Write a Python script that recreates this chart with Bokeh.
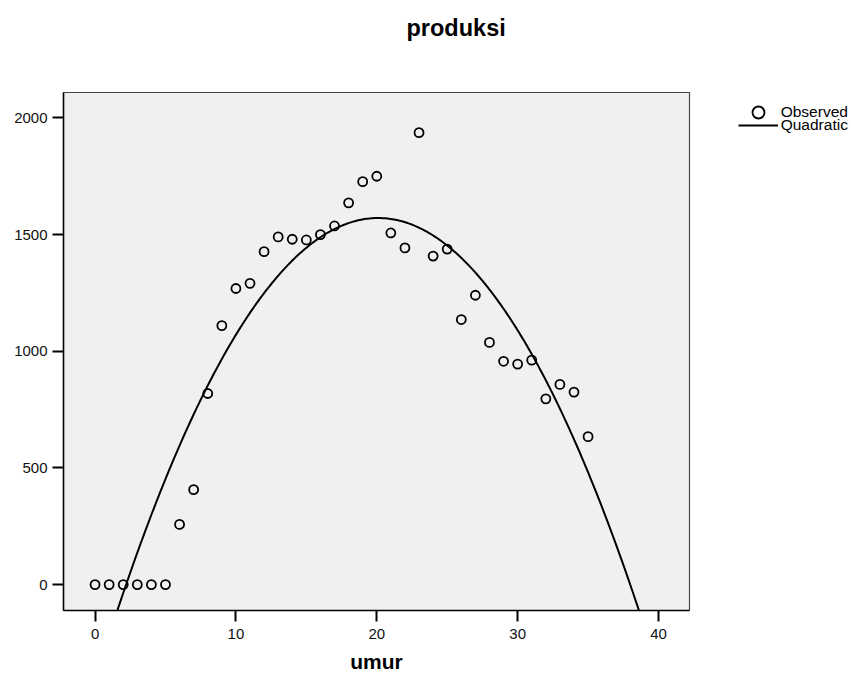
import numpy as np
from bokeh.plotting import figure
from bokeh.layouts import row
from bokeh.models import Range1d, FixedTicker, Legend, LegendItem, ColumnDataSource, Title
from bokeh.embed import file_html
from bokeh.resources import INLINE

# ---- data ----
umur = [0, 1, 2, 3, 4, 5, 6, 7, 8, 9, 10, 11, 12, 13, 14, 15, 16, 17, 18, 19,
        20, 21, 22, 23, 24, 25, 26, 27, 28, 29, 30, 31, 32, 33, 34, 35]
produksi = [0, 0, 0, 0, 0, 0, 258, 407, 819, 1110, 1269, 1291, 1427, 1490, 1480, 1477,
            1500, 1537, 1636, 1727, 1750, 1507, 1443, 1937, 1408, 1438, 1136, 1240,
            1038, 957, 945, 962, 796, 858, 825, 634]
x_ticks = [0, 10, 20, 30, 40]
y_ticks = [0, 500, 1000, 1500, 2000]
legend_labels = ["Observed", "Quadratic"]

# quadratic fit (curve estimation) from the observed data
coef = np.polyfit(umur, produksi, 2)
xf = np.linspace(-3, 43, 400)
yf = np.polyval(coef, xf)

FONT = "Liberation Sans"

# ---------------- main chart ----------------
p = figure(width=692, height=675, output_backend="svg", toolbar_location=None,
           title=None,
           x_range=Range1d(-2.24, 42.2), y_range=Range1d(-111, 2109),
           min_border_left=63, min_border_right=3, min_border_top=92,
           min_border_bottom=64)

p.background_fill_color = "#F0F0F0"
p.border_fill_color = "white"
p.outline_line_color = "#444444"
p.outline_line_width = 1.2
p.grid.visible = False

# spacer (nearest the frame) then the visible title above it
p.add_layout(Title(text=" ", text_font_size="10px", standoff=39), "above")
p.add_layout(Title(text="produksi", text_font=FONT, text_font_size="23.5px",
                   text_font_style="bold", text_color="black",
                   align="left", offset=343, standoff=0), "above")

p.xaxis.ticker = FixedTicker(ticks=x_ticks)
p.yaxis.ticker = FixedTicker(ticks=y_ticks)
p.axis.axis_line_color = "black"
p.axis.axis_line_width = 1.5
p.axis.major_tick_line_color = "black"
p.axis.major_tick_line_width = 2
p.axis.major_tick_out = 11
p.axis.major_tick_in = 0
p.axis.minor_tick_line_color = None
p.axis.major_label_text_font = FONT
p.axis.major_label_text_font_size = "15px"
p.axis.major_label_text_color = "#111111"
p.xaxis.major_label_standoff = 7
p.yaxis.major_label_standoff = 5

p.xaxis.axis_label = "umur"
p.xaxis.axis_label_text_font = FONT
p.xaxis.axis_label_text_font_size = "21px"
p.xaxis.axis_label_text_font_style = "bold"
p.xaxis.axis_label_text_color = "black"
p.xaxis.axis_label_text_line_height = 0.6
p.xaxis.axis_label_standoff = 8

src = ColumnDataSource(dict(x=umur, y=produksi))
p.scatter("x", "y", source=src, marker="circle", size=9,
          fill_color=None, line_color="black", line_width=1.8)
p.line(xf, yf, line_color="black", line_width=2)

# ---------------- legend panel (right of chart) ----------------
q = figure(width=159, height=675, output_backend="svg", toolbar_location=None,
           title=None, x_axis_location=None, y_axis_location=None,
           x_range=Range1d(-1000, -999), y_range=Range1d(-1000, -999),
           min_border_left=0, min_border_right=0, min_border_top=0,
           min_border_bottom=0)
q.grid.visible = False
q.outline_line_color = None
q.background_fill_color = "white"
q.border_fill_color = "white"

# same series as the chart, kept out of this panel's view; used for legend glyphs
lsrc = ColumnDataSource(dict(x=umur, y=produksi))
r_obs = q.scatter("x", "y", source=lsrc, marker="circle", size=11.5,
                  fill_color=None, line_color="black", line_width=1.8)
r_quad = q.line(xf, yf, line_color="black", line_width=2)

def add_legend(label, rend, vy, h):
    lg = Legend(items=[LegendItem(label=label, renderers=[rend])],
                location=(45.7, vy), orientation="vertical",
                glyph_width=40, glyph_height=h, label_height=h,
                label_standoff=3, padding=0, margin=0, spacing=0,
                label_text_font=FONT, label_text_font_size="15.5px",
                label_text_color="black",
                background_fill_alpha=0, border_line_alpha=0)
    q.add_layout(lg, "center")

add_legend(legend_labels[0], r_obs, 483.4, 30)
add_legend(legend_labels[1], r_quad, 474.7, 20)

layout = row(p, q, spacing=0)
open("out.html", "w").write(file_html(layout, INLINE))
